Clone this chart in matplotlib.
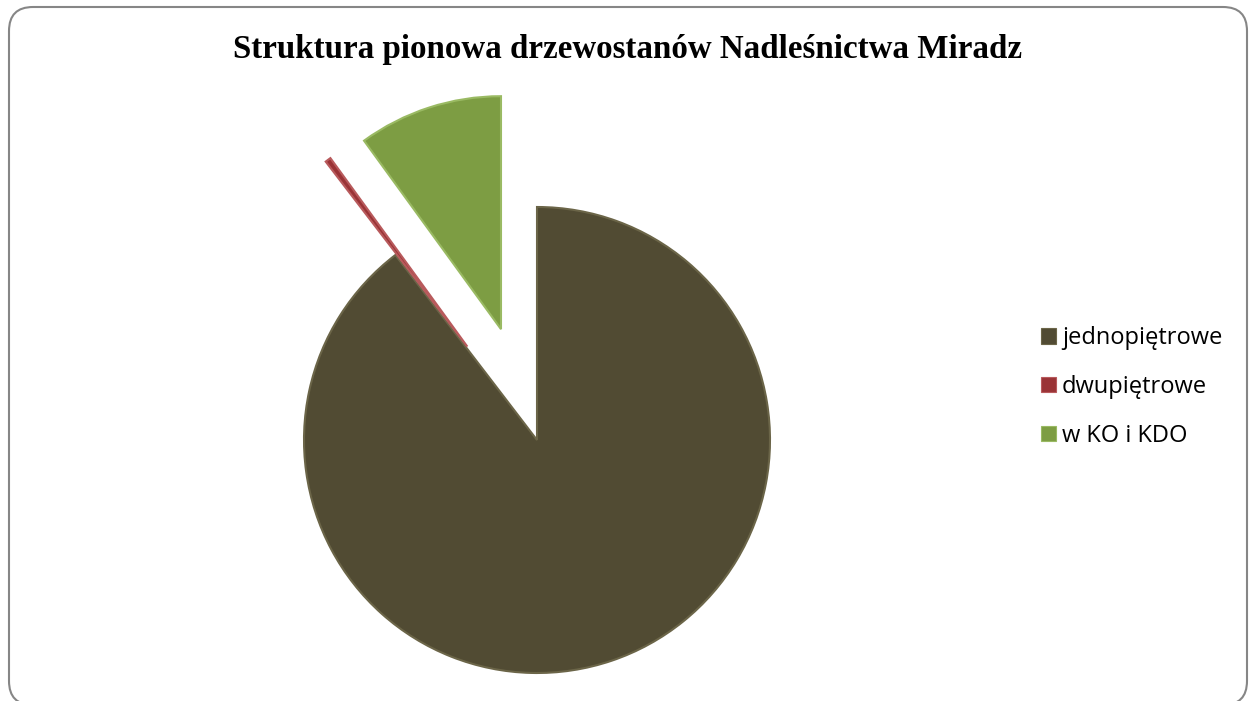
import matplotlib.pyplot as plt
from matplotlib.patches import FancyBboxPatch, Patch

# data (percent shares)
labels = ['jednopiętrowe', 'dwupiętrowe', 'w KO i KDO']
shares = [89.6, 0.4, 10.0]
explode_frac = [0.0, 0.5, 0.5]
colors = ['#514b33', '#9a3336', '#7d9d43']
edges = ['#6b6548', '#b85a5c', '#9aba63']
title = 'Struktura pionowa drzewostanów Nadleśnictwa Miradz'

W, H = 1253, 701
R = 233
fig = plt.figure(figsize=(W / 100, H / 100), dpi=100)
ax = fig.add_axes([0, 0, 1, 1])

# rounded chart border
border = FancyBboxPatch((9, -4), 1238, H - 7 + 4, boxstyle='round,pad=0,rounding_size=24',
                        facecolor='white', edgecolor='#868686', linewidth=1.5, zorder=0)
ax.add_patch(border)

# matplotlib explode is in data units, so scale by the radius
wedges, _ = ax.pie(shares, explode=[e * R for e in explode_frac], colors=colors,
                   startangle=90, counterclock=False,
                   center=(537, H - 440), radius=R, frame=True,
                   wedgeprops=dict(linewidth=1.5))
for w, ec in zip(wedges, edges):
    w.set_edgecolor(ec)
    w.set_zorder(2)
ax.set_xlim(0, W)
ax.set_ylim(0, H)
ax.set_aspect('equal')
ax.axis('off')

ax.text(628, H - 58, title, ha='center', va='baseline', fontsize=23.8,
        fontweight='bold', family='Liberation Serif')

handles = [Patch(facecolor=c, edgecolor=e, linewidth=0.8) for c, e in zip(colors, edges)]
ax.legend(handles, labels, loc='center left', bbox_to_anchor=(1020 / W, 1 - 387 / H),
          bbox_transform=fig.transFigure, frameon=False, prop=dict(family='Open Sans', size=17),
          handlelength=0.63, handleheight=0.63, handletextpad=0.25, labelspacing=1.05)

fig.savefig('out.png', dpi=100)
